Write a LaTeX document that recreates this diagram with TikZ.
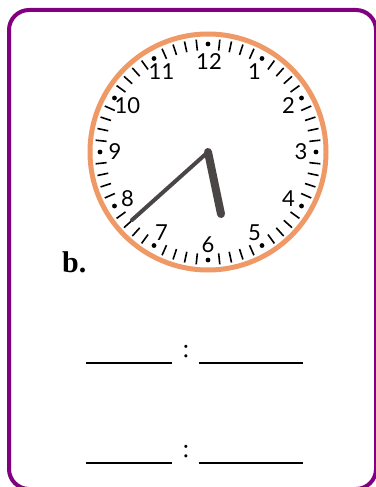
\documentclass[tikz,border=0pt]{standalone}
\usepackage{fontspec}
\setmainfont{Liberation Serif}
\newfontfamily\dialfont{Lato}
\usepackage{tikz}
\usetikzlibrary{positioning}
\definecolor{framepurple}{HTML}{800080}
\definecolor{ringorange}{HTML}{EF9A66}
\definecolor{handgray}{HTML}{4A4646}
\tikzset{
  cardframe/.style={
    draw=framepurple,
    line width=4pt,
    rounded corners=20pt
  },
  dialring/.style={
    draw=ringorange,
    line width=5pt
  },
  minutetick/.style={
    draw=black,
    line width=1.6pt
  },
  hourdot/.style={
    fill=black
  },
  dialnum/.style={
    font=\dialfont\fontsize{22}{22}\selectfont,
    inner sep=0pt
  },
  hourhand/.style={
    draw=handgray,
    line width=8pt,
    line cap=round
  },
  minutehand/.style={
    draw=handgray,
    line width=4pt,
    line cap=round
  },
  answerline/.style={
    draw=black,
    line width=1.4pt
  },
  itemlabel/.style={
    font=\bfseries\fontsize{30}{30}\selectfont,
    inner sep=0pt
  },
  colonsign/.style={
    font=\fontsize{26}{26}\selectfont,
    inner sep=0pt
  }
}

\begin{document}
\begin{tikzpicture}[x=1pt,y=-1pt]
  \useasboundingbox (0,0) rectangle (375,487);

  % card
  \draw[cardframe] (9,10) rectangle (376,489);

  % dial
  \coordinate (c) at (208,152);
  \draw[dialring] (c) circle (118);
  \foreach \m in {0,...,59}{
    \pgfmathtruncatemacro{\r}{mod(\m,5)}
    \ifnum\r=0
      \fill[hourdot] ({208+108*sin(6*\m)},{152-108*cos(6*\m)}) circle (2.4);
    \else
      \draw[minutetick] ({208+102*sin(6*\m)},{152-102*cos(6*\m)})
        -- ({208+113*sin(6*\m)},{152-113*cos(6*\m)});
    \fi
  }
  \foreach \h in {1,...,11}{
    \node[dialnum] (h\h) at ({208+93*sin(30*\h)},{152-93*cos(30*\h)}) {\h};
  }
  \node[dialnum] (h12) at (209,62) {12};

  % hands
  \coordinate (mtip) at (132,220);
  \coordinate (htip) at (221,214);
  \draw[minutehand] (c) -- (mtip);
  \draw[hourhand] (c) -- (htip);

  \node[itemlabel, anchor=base west] (b) at (62,272) {b.};

  % answer lines
  \node[colonsign] (col1) at (186,352) {:};
  \draw[answerline] (86,363) -- (172,363);
  \draw[answerline] (199,363) -- (303,363);
  \node[colonsign] (col2) at (186,452) {:};
  \draw[answerline] (86,463) -- (172,463);
  \draw[answerline] (199,463) -- (303,463);
\end{tikzpicture}
\end{document}
